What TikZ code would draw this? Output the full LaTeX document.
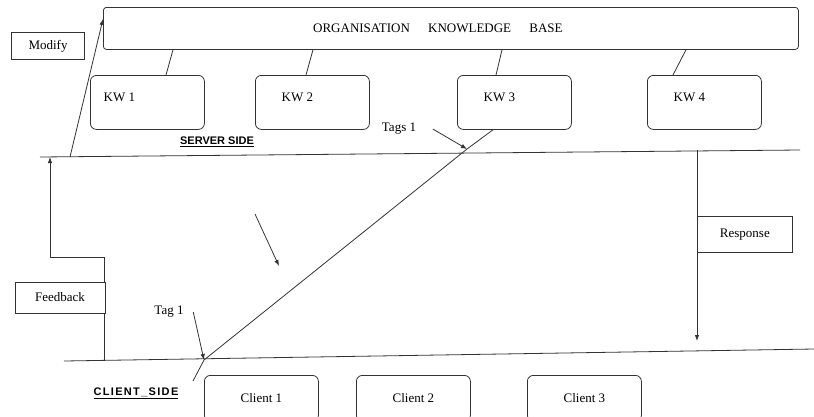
\documentclass[tikz,border=0pt]{standalone}
\usepackage{fontspec}
\setmainfont{Liberation Serif}
\newfontfamily\sidefont{Liberation Sans}
\newfontfamily\sidefontwide[LetterSpace=12]{Liberation Sans}
\usetikzlibrary{arrows.meta,positioning}

\tikzset{
  kbbox/.style={draw, rounded corners=3pt, minimum width=695pt, minimum height=42pt, anchor=north west},
  kwbox/.style={draw, rounded corners=6pt, minimum width=114pt, minimum height=54pt, anchor=north west},
  clientbox/.style={draw, rounded corners=6pt, minimum width=114pt, minimum height=46pt, anchor=north west, text depth=0pt},
  lblbox/.style={draw, fill=white, inner sep=0pt},
  tip/.style={-{Latex[length=6pt,width=4.5pt]}},
  sidelbl/.style={font=\sidefont\bfseries\fontsize{11}{13}\selectfont}
}

\begin{document}
\begin{tikzpicture}[x=1pt,y=-1pt,font=\fontsize{13}{15}\selectfont,line width=0.8pt,draw=black!80]
\useasboundingbox (0,0) rectangle (814,416);

% knowledge base and its parts
\node[kbbox, label={[xshift=-13pt]center:ORGANISATION\hspace{1.4em}KNOWLEDGE\hspace{1.4em}BASE}] (kb) at (103,7) {};
\node[kwbox, label={[anchor=west,xshift=10pt,yshift=-22pt]north west:KW 1}] (kw1) at (90,75) {};
\node[kwbox, label={[anchor=west,xshift=23pt,yshift=-22pt]north west:KW 2}] (kw2) at (255,75) {};
\node[kwbox, label={[anchor=west,xshift=23pt,yshift=-22pt]north west:KW 3}] (kw3) at (457,75) {};
\node[kwbox, label={[anchor=west,xshift=23pt,yshift=-22pt]north west:KW 4}] (kw4) at (647,75) {};

\draw (kb.south -| 173,0) -- (kw1.north -| 166,0);
\draw (kb.south -| 313,0) -- (kw2.north -| 306,0);
\draw (kb.south -| 502,0) -- (kw3.north -| 496,0);
\draw (kb.south -| 686,0) -- (kw4.north -| 673,0);

% the two sides
\coordinate (srvL) at (40,157);
\coordinate (srvR) at (800,150);
\coordinate (cliL) at (64,361);
\coordinate (cliR) at (814,349);
\draw (srvL) -- (srvR);
\draw (cliL) -- (cliR);
\node[sidelbl] (server) at (217,142) {\underline{SERVER SIDE}};
\node[sidelbl, font=\sidefontwide\bfseries\fontsize{11}{13}\selectfont] (client) at (136,393) {\underline{CLIENT\_SIDE}};

% tags
\coordinate (tagsdot) at (467,149);
\coordinate (tagdot) at (204,360);
\draw (kw3.south -| 493,0) -- (tagsdot) -- (tagdot) -- ++(-11,21);
\node (tags) at (399,129) {Tags 1};
\draw[tip] ([xshift=13pt]tags.east) -- (tagsdot);
\node (tag) at (169,312) {Tag 1};
\draw[tip] ([xshift=6pt]tag.east) -- (tagdot);

\coordinate (m1) at (255,214);
\coordinate (m2) at (279,266);
\draw[tip] (m1) -- (m2);

% modify
\coordinate (modfoot) at (70,157);
\coordinate (modtop) at (103,19);
\draw[tip] (modfoot) -- (modtop);
\node[lblbox, minimum width=73pt, minimum height=27pt] (modify) at (48,46) {Modify};

% feedback
\draw[tip] (104,360) -- (104,257) -- (50,257) -- (srvL -| 50,0);
\node[lblbox, minimum width=90pt, minimum height=31pt] (feedback) at (60,297.5) {Feedback};

% response
\draw[tip] (srvR -| 697,0) -- (697,341);
\node[lblbox, minimum width=95pt, minimum height=36pt, anchor=north west] (response) at (697,216) {Response};

% clients
\node[clientbox] (c1) at (204,375) {Client 1};
\node[clientbox] (c2) at (356,375) {Client 2};
\node[clientbox] (c3) at (527,375) {Client 3};
\end{tikzpicture}
\end{document}
